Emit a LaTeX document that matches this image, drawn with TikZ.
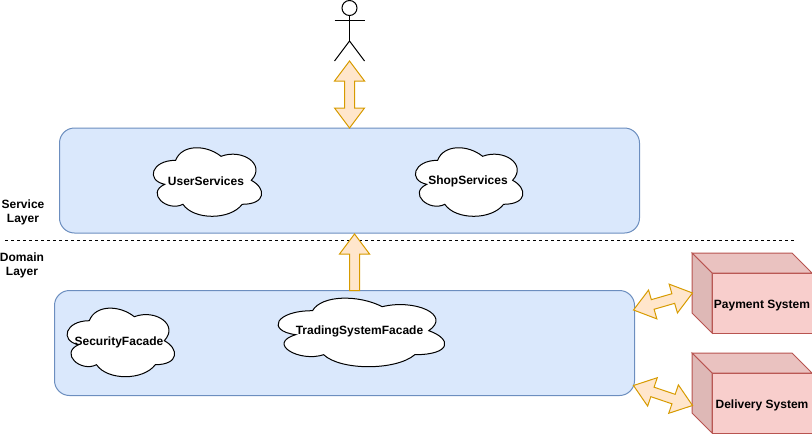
\documentclass[tikz,border=0pt]{standalone}
\usepackage{fontspec}
\setmainfont{Liberation Sans}
\usetikzlibrary{calc}
\definecolor{layerfill}{HTML}{DAE8FC}
\definecolor{layerline}{HTML}{6C8EBF}
\definecolor{arrowfill}{HTML}{FFE6CC}
\definecolor{arrowline}{HTML}{D79B00}
\definecolor{cubefill}{HTML}{F8CECC}
\definecolor{cubetop}{HTML}{EAC2C0}
\definecolor{cubeside}{HTML}{DEB8B6}
\definecolor{cubeline}{HTML}{B85450}
\begin{document}
\begin{tikzpicture}[
    x=1pt,y=-1pt,line width=1pt,
    label/.style={font=\bfseries\fontsize{12}{14}\selectfont,inner sep=0pt,align=center},
    layer/.style={rectangle,draw=layerline,fill=layerfill,rounded corners=15pt,minimum width=580pt,minimum height=105pt,outer sep=0pt},
    front/.style={rectangle,draw=cubeline,fill=cubefill,label,minimum width=100pt,minimum height=60pt,outer sep=0pt,text height=11pt,text depth=0pt},
    blockboth/.style={draw=arrowline,fill=arrowfill,to path={
        (\tikztostart)
        -- ($(\tikztostart)!20pt!(\tikztotarget)!15pt!90:(\tikztotarget)$)
        -- ($(\tikztostart)!20pt!(\tikztotarget)!5pt!90:(\tikztotarget)$)
        -- ($(\tikztotarget)!20pt!(\tikztostart)!5pt!-90:(\tikztostart)$)
        -- ($(\tikztotarget)!20pt!(\tikztostart)!15pt!-90:(\tikztostart)$)
        -- (\tikztotarget)
        -- ($(\tikztotarget)!20pt!(\tikztostart)!15pt!90:(\tikztostart)$)
        -- ($(\tikztotarget)!20pt!(\tikztostart)!5pt!90:(\tikztostart)$)
        -- ($(\tikztostart)!20pt!(\tikztotarget)!5pt!-90:(\tikztotarget)$)
        -- ($(\tikztostart)!20pt!(\tikztotarget)!15pt!-90:(\tikztotarget)$)
        -- cycle}},
    blocksingle/.style={draw=arrowline,fill=arrowfill,to path={
        ($(\tikztostart)!5pt!90:(\tikztotarget)$)
        -- ($(\tikztotarget)!20pt!(\tikztostart)!5pt!-90:(\tikztostart)$)
        -- ($(\tikztotarget)!20pt!(\tikztostart)!15pt!-90:(\tikztostart)$)
        -- (\tikztotarget)
        -- ($(\tikztotarget)!20pt!(\tikztostart)!15pt!90:(\tikztostart)$)
        -- ($(\tikztotarget)!20pt!(\tikztostart)!5pt!90:(\tikztostart)$)
        -- ($(\tikztostart)!5pt!-90:(\tikztotarget)$)
        -- cycle}},
    ]
    \useasboundingbox (0,0) rectangle (812,434);
    \node[layer] (service) at (349.5,180.5) {};
    \node[layer] (domain) at (344.5,343) {};
    % clouds
    \foreach \nm/\px/\py/\w/\tx/\ty/\txt in {usersvc/145.4/140.3/121/206/181.5/UserServices,
        shopsvc/407.6/140.3/120/468/181.5/ShopServices,
        tradingfacade/266/290.7/186/359.5/331.5/TradingSystemFacade,
        securityfacade/59.3/300.7/120/119/342/SecurityFacade}{
      \begin{scope}[shift={(\px,\py)},x=\w pt,y=-80pt]
        \draw[fill=white] (0.25,0.25) .. controls (0.05,0.25) and (0,0.5) .. (0.16,0.55)
          .. controls (0,0.66) and (0.18,0.9) .. (0.31,0.8)
          .. controls (0.4,1) and (0.7,1) .. (0.8,0.8)
          .. controls (1,0.8) and (1,0.6) .. (0.875,0.5)
          .. controls (1,0.3) and (0.8,0.1) .. (0.625,0.2)
          .. controls (0.5,0.05) and (0.3,0.05) .. cycle;
      \end{scope}
      \node[label] (\nm) at (\tx,\ty) {\txt};
    }
    % actor
    \node[circle,draw,fill=white,minimum size=15pt,inner sep=0pt,outer sep=0pt] (head) at (349.5,8) {};
    \coordinate (hip) at (349.5,41);
    \coordinate (foot) at (349.5,61);
    \coordinate (armleft) at (334.5,20.5);
    \coordinate (armright) at (364.5,20.5);
    \coordinate (footleft) at (334.5,61);
    \coordinate (footright) at (364.5,61);
    \draw (head.south) -- (hip);
    \draw (armleft) -- (armright);
    \draw (footleft) -- (hip) -- (footright);
    % layer separator
    \coordinate (sepleft) at (5,240.5);
    \coordinate (sepright) at (795,240.5);
    \draw[dash pattern=on 3pt off 3pt] (sepleft) -- (sepright);
    \node[label] (servicelabel) at (23,212) {Service\\Layer};
    \node[label] (domainlabel) at (22,265) {Domain\\Layer};
    % external systems
    \node[front] (payment) at (762,303) {Payment System};
    \node[front] (delivery) at (762,403) {Delivery System};
    \foreach \c in {payment,delivery}{
      \draw[draw=cubeline,fill=cubetop] (\c.north west) -- ++(-20,-20) -- ++(100,0) -- (\c.north east) -- cycle;
      \draw[draw=cubeline,fill=cubeside] (\c.north west) -- ++(-20,-20) -- ++(0,60) -- (\c.south west) -- cycle;
    }
    % arrows
    \draw[blockboth] (foot) to (service.north);
    \coordinate (uptail) at (354.5,290.5);
    \coordinate (uptip) at (354.5,234);
    \draw[blocksingle] (uptail) to (uptip);
    \coordinate (payleft) at (633.5,310);
    \coordinate (payright) at (692.5,293);
    \coordinate (delleft) at (633.5,385.5);
    \coordinate (delright) at (692.5,405.5);
    \draw[blockboth] (payleft) to (payright);
    \draw[blockboth] (delleft) to (delright);
\end{tikzpicture}
\end{document}
